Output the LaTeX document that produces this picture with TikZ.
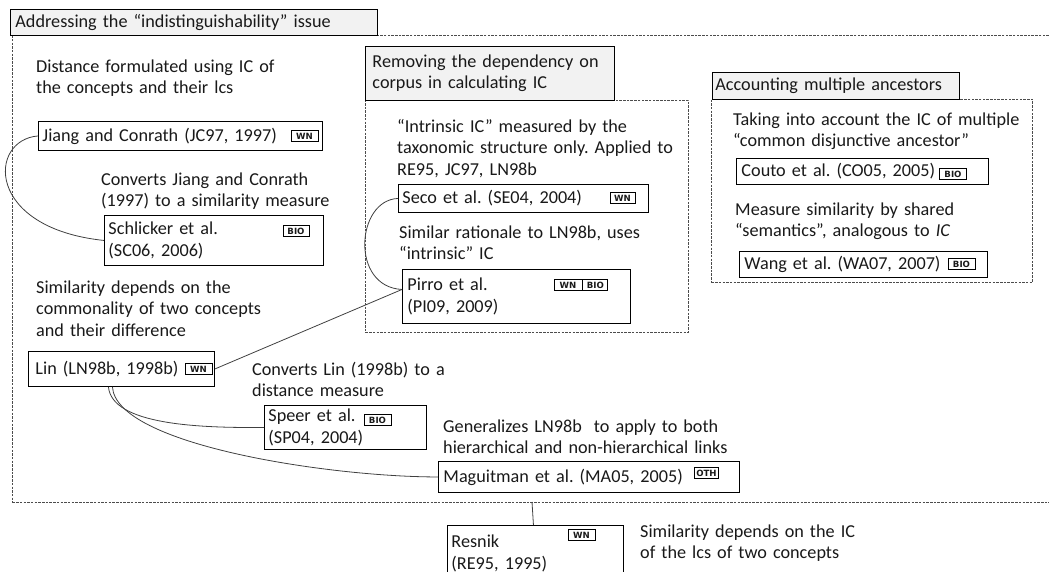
\documentclass[tikz,border=0pt]{standalone}
\usepackage{fontspec}
\setmainfont{Carlito}
\newfontfamily\tagfont{DejaVu Sans}
\frenchspacing
\begin{document}
\begin{tikzpicture}[x=1pt,y=-1pt,
  every node/.style={font=\fontsize{18.2}{21.5}\selectfont, inner sep=0pt, text=black!90},
  txt/.style={anchor=base west, align=left, text width=420pt},
  paper/.style={draw, line width=0.9pt, anchor=north west, align=left, inner xsep=4pt},
  ttl/.style={draw, line width=0.9pt, fill=black!5, anchor=north west, align=left},
  grp/.style={draw=black!70, dash pattern=on 2.5pt off 1.2pt, line width=0.9pt, anchor=north west},
  tag/.style={draw, line width=0.8pt, font=\tagfont\fontsize{8.6}{8.6}\selectfont\bfseries, minimum height=11pt, inner xsep=0.5pt},
  conn/.style={draw=black!75, line width=0.8pt}
]
\useasboundingbox (0,0) rectangle (1049,571);

% groups
\node[grp, minimum width=1045pt, minimum height=467pt] (g1) at (12,35) {};
\node[grp, minimum width=323pt, minimum height=232pt] (g2) at (365,100) {};
\node[grp, minimum width=321pt, minimum height=183pt] (g3) at (711,99) {};

% titles
\node[ttl, minimum width=367pt, minimum height=26pt, inner xsep=5pt, text width=357pt] (ti1) at (10,9) {Addressing the “indistinguishability” issue};
\node[ttl, minimum width=249pt, minimum height=54pt, inner xsep=7pt, text width=235pt] (ti2) at (365,46) {Removing the dependency on\\corpus in calculating IC};
\node[ttl, minimum width=247pt, minimum height=27pt, inner xsep=3pt, text width=241pt] (ti3) at (712,72) {Accounting multiple ancestors};

% descriptions
\node[txt] (t1) at (36,72) {Distance formulated using IC of\\the concepts and their lcs};
\node[txt] (t2) at (101,185) {Converts Jiang and Conrath\\(1997) to a similarity measure};
\node[txt] (t3) at (36,293) {Similarity depends on the\\commonality of two concepts\\and their difference};
\node[txt] (t4) at (252,375) {Converts Lin (1998b) to a\\distance measure};
\node[txt] (t5) at (443,432) {Generalizes LN98b~ to apply to both\\hierarchical and non-hierarchical links};
\node[txt] (t6) at (640,537) {Similarity depends on the IC\\of the lcs of two concepts};
\node[txt] (t7) at (397,132) {“Intrinsic IC” measured by the\\taxonomic structure only. Applied to\\RE95, JC97, LN98b};
\node[txt] (t8) at (399,238) {Similar rationale to LN98b, uses\\“intrinsic” IC};
\node[txt] (t9) at (733,125) {Taking into account the IC of multiple\\“common disjunctive ancestor”};
\node[txt] (t10) at (735,215) {Measure similarity by shared\\“semantics”, analogous to \textit{IC}};

% papers
\node[paper, minimum width=284pt, minimum height=29pt, text width=276pt] (jc) at (38,121) {Jiang and Conrath (JC97, 1997)};
\node[paper, minimum width=219pt, minimum height=50pt, text width=211pt] (sc) at (104,215) {Schlicker et al.\\(SC06, 2006)};
\node[paper, minimum width=186pt, minimum height=35pt, inner xsep=7pt, text width=172pt] (ln) at (28,351) {Lin (LN98b, 1998b)};
\node[paper, minimum width=162pt, minimum height=44pt, text width=154pt] (sp) at (264,405) {Speer et al.\\(SP04, 2004)};
\node[paper, minimum width=301pt, minimum height=31pt, inner xsep=5pt, text width=291pt] (ma) at (438,461) {Maguitman et al. (MA05, 2005)};
\node[paper, minimum width=176pt, minimum height=56pt, text width=168pt] (re) at (447,525) {Resnik\\(RE95, 1995)};
\node[paper, minimum width=250pt, minimum height=28pt, text width=242pt] (se) at (398,184) {Seco et al. (SE04, 2004)};
\node[paper, minimum width=228pt, minimum height=54pt, inner xsep=5pt, text width=218pt] (pi) at (402,269) {Pirro et al.\\(PI09, 2009)};
\node[paper, minimum width=252pt, minimum height=26pt, inner xsep=5pt, text width=242pt] (co) at (736,158) {Couto et al. (CO05, 2005)};
\node[paper, minimum width=248pt, minimum height=26pt, inner xsep=5pt, text width=238pt] (wa) at (739,251) {Wang et al. (WA07, 2007)};

% tags
\node[tag, minimum width=27pt] (jcwn) at (304.5,136) {WN};
\node[tag, minimum width=26pt] (scbio) at (296,231) {BIO};
\node[tag, minimum width=27pt] (lnwn) at (198.5,369) {WN};
\node[tag, minimum width=27pt] (spbio) at (377.5,420) {BIO};
\node[tag, minimum width=24pt] (maoth) at (706.5,473) {OTH};
\node[tag, minimum width=27pt] (rewn) at (581.5,535) {WN};
\node[tag, minimum width=25pt] (sewn) at (622.5,198) {WN};
\node[tag, minimum width=28pt] (piwn) at (568,285) {WN};
\node[tag, minimum width=25pt, anchor=west] (pibio) at (piwn.east) {BIO};
\node[tag, minimum width=27pt] (cobio) at (953,174) {BIO};
\node[tag, minimum width=27pt] (wabio) at (961.5,264) {BIO};

% connectors
\coordinate (gb) at (532,502);
\draw[conn] (jc.west) .. controls (-12,140) and (-15,228) .. (sc.west);
\draw[conn] (se.west) .. controls (356,200) and (350,287) .. ([yshift=7pt]pi.west);
\draw[conn] (ln.east) -- ([yshift=7pt]pi.west);
\draw[conn] ([xshift=-13pt]ln.south) .. controls (112,425) and (200,428) .. (sp.west);
\draw[conn] ([xshift=-9pt]ln.south) .. controls (116,445) and (330,477) .. (ma.west);
\draw[conn] (gb) -- ([xshift=-2pt]re.north);
\end{tikzpicture}
\end{document}
